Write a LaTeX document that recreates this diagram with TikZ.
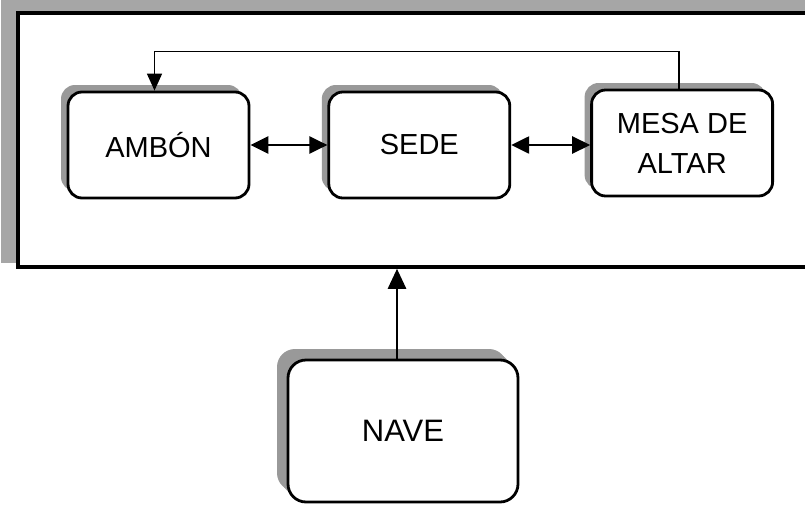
\documentclass[tikz,border=0pt]{standalone}
\usepackage{fontspec}
\setmainfont{Liberation Sans}
\usetikzlibrary{arrows.meta, shapes, positioning, calc, shadows}
\tikzset{rect/.style = {
  rectangle,
  draw=black, line width=2.8pt, fill=white,
  inner sep=0pt,
  text centered, align=center
  }}
\tikzset{block/.style = {
  % Rectangle:
  rect,
  rounded corners=14pt,
  minimum width=181pt, minimum height=106pt,
  drop shadow={shadow xshift=-7pt, shadow yshift=7pt, fill=black!40, opacity=1},
  % Text
  font=\fontsize{29}{40}\selectfont
  }}
\tikzset{bigblock/.style = {
  % Rectangle:
  block,
  rounded corners=18pt,
  minimum width=230pt, minimum height=142pt,
  drop shadow={shadow xshift=-11pt, shadow yshift=11pt, fill=black!40, opacity=1},
  % Text
  font=\fontsize{31}{40}\selectfont
  }}
\tikzset{frame/.style = {
  rect,
  line width=3.5pt,
  minimum width=812pt, minimum height=254pt
  }}
\tikzset{dblarrow/.style = {
  {Triangle[length=18pt,width=17pt]}-{Triangle[length=18pt,width=17pt]},
  line width=2.5pt
  }}
\tikzset{uparrow/.style = {
  -{Triangle[length=20pt,width=18pt]},
  line width=2.5pt
  }}
\tikzset{fbarrow/.style = {
  -{Triangle[length=17pt,width=15pt]},
  line width=1.5pt
  }}

\begin{document}
\begin{tikzpicture}
\useasboundingbox (0,0) rectangle (805pt,-506pt);
\clip (0,0) rectangle (805pt,-506pt);

% shadow of the frame
\fill [black!35] (1pt,0pt) rectangle (830pt,-263pt);

% NODES
\node (presbiterio) [frame] at (424pt,-140pt) {};

\node (ambon) [block] at (158.5pt,-145pt) {AMBÓN};
\node (sede) [block, right=77pt of ambon] {SEDE};
\node (mesa) [block, right=79pt of sede, yshift=2pt] {MESA DE\\ALTAR};

\node (nave) [bigblock] at (403pt,-431pt) {NAVE};

% arrows
\draw [dblarrow] (ambon) -- (sede);
\draw [dblarrow] (sede) -- (mesa.west |- sede);

\draw [fbarrow] ([xshift=-3pt]mesa.north) -- ++(0,37pt) -| ([xshift=-4pt]ambon.north);

\draw [uparrow] ([xshift=-6pt]nave.north) -- ([xshift=-6pt]nave.north |- presbiterio.south);
\end{tikzpicture}
\end{document}
